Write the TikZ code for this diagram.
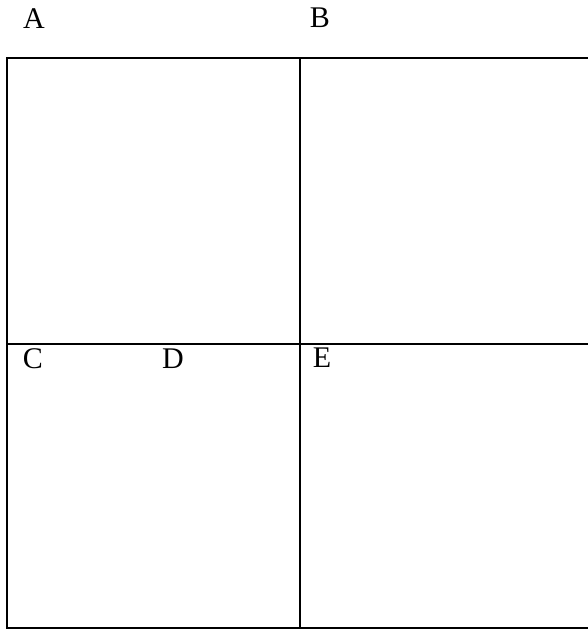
\documentclass[tikz,border=0pt]{standalone}
\usepackage{fontspec}
\setmainfont{Liberation Serif}
\begin{document}
\begin{tikzpicture}[x=1pt,y=-1pt,
  gridline/.style={line width=2pt,black},
  lbl/.style={font=\fontsize{30}{32}\selectfont,inner sep=0pt}]
\useasboundingbox (0,0) rectangle (588,630);
\coordinate (tl) at (7,58);
\coordinate (tr) at (588,58);
\coordinate (bl) at (7,628);
\coordinate (br) at (588,628);
\coordinate (mt) at (299.5,58);
\coordinate (mb) at (299.5,628);
\coordinate (ml) at (7,344);
\coordinate (mr) at (588,344);
\draw[gridline] (tr) -- (tl) -- (bl) -- (br);
\draw[gridline] (mt) -- (mb);
\draw[gridline] (ml) -- (mr);
\node[lbl] (A) at (34,19) {A};
\node[lbl] (B) at (320,18) {B};
\node[lbl] (C) at (33,359) {C};
\node[lbl] (D) at (173,359) {D};
\node[lbl] (E) at (322,358) {E};
\end{tikzpicture}
\end{document}
